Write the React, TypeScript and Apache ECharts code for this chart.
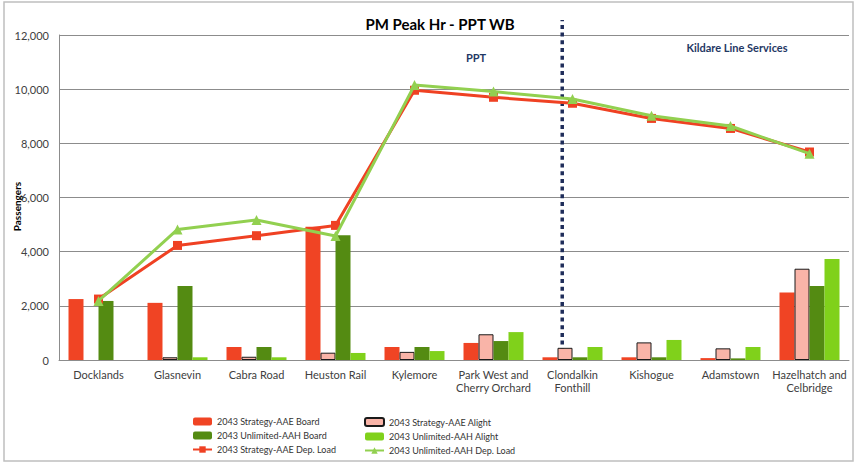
import React, { useEffect, useRef } from "react";
import * as echarts from "echarts";

const categories = [
  "Docklands",
  "Glasnevin",
  "Cabra Road",
  "Heuston Rail",
  "Kylemore",
  "Park West and\nCherry Orchard",
  "Clondalkin\nFonthill",
  "Kishogue",
  "Adamstown",
  "Hazelhatch and\nCelbridge",
];

const strategyBoard = [2250, 2110, 480, 4920, 480, 630, 100, 100, 70, 2490];
const strategyAlight = [0, 100, 120, 270, 300, 950, 450, 650, 430, 3370];
const unlimitedBoard = [2180, 2730, 480, 4610, 480, 700, 100, 100, 60, 2730];
const unlimitedAlight = [0, 100, 100, 260, 330, 1030, 480, 740, 480, 3730];
const strategyLoad = [2250, 4230, 4590, 4970, 9960, 9700, 9480, 8920, 8550, 7680];
const unlimitedLoad = [2180, 4820, 5170, 4580, 10150, 9910, 9640, 9020, 8640, 7620];

const yTicks = { min: 0, max: 12000, interval: 2000 };
const DIVIDER_X = 6.37;
const DIVIDER_TOP = 12550;

const NAMES = {
  sb: "2043 Strategy-AAE Board",
  sa: "2043 Strategy-AAE Alight",
  ub: "2043 Unlimited-AAH Board",
  ua: "2043 Unlimited-AAH Alight",
  sl: "2043 Strategy-AAE Dep. Load",
  ul: "2043 Unlimited-AAH Dep. Load",
};

const FONT = "Lato, 'Open Sans', sans-serif";

const hideZero = (arr: number[]) => arr.map((v) => (v === 0 ? null : v));

export default function App() {
  const ref = useRef<HTMLDivElement>(null);
  useEffect(() => {
    if (!ref.current) return;
    const chart = echarts.init(ref.current, undefined, { renderer: "svg" });
    const legendCommon = {
      orient: "vertical" as const,
      padding: 0,
      height: 50,
      itemWidth: 19,
      itemHeight: 8,
      itemGap: 5,
      textStyle: { fontSize: 9, color: "#333", fontFamily: FONT },
    };
    chart.setOption({
      animation: false,
      textStyle: { fontFamily: FONT },
      title: {
        text: "PM Peak Hr - PPT WB",
        left: 435,
        top: 11,
        textAlign: "center",
        textStyle: { fontSize: 15, fontWeight: "bold", color: "#000", fontFamily: FONT },
      },
      legend: [
        {
          ...legendCommon,
          left: 192,
          top: 417,
          data: [NAMES.sb, NAMES.ub, NAMES.sl],
        },
        {
          ...legendCommon,
          left: 364,
          top: 417,
          data: [NAMES.sa, NAMES.ua, NAMES.ul],
        },
      ],
      grid: {
        left: 59,
        right: 9,
        top: 35,
        bottom: 103,
        containLabel: false,
        outerBoundsMode: "none",
      },
      xAxis: [
        {
          type: "category",
          data: categories,
          axisLine: { show: true, lineStyle: { color: "#8C8C8C", width: 1 } },
          axisTick: { show: false },
          axisLabel: {
            interval: 0,
            fontSize: 11,
            lineHeight: 13,
            color: "#404040",
            margin: 8,
            fontFamily: FONT,
          },
        },
        { type: "value", min: 0, max: 10, show: false },
      ],
      yAxis: {
        type: "value",
        min: yTicks.min,
        max: yTicks.max,
        interval: yTicks.interval,
        name: "Passengers",
        nameLocation: "middle",
        nameGap: 37,
        nameRotate: 90,
        nameMoveOverlap: false,
        nameTextStyle: {
          fontSize: 10,
          fontWeight: "bold",
          color: "#000",
          fontFamily: FONT,
          padding: [0, 18, 0, 0],
        },
        axisLine: { show: true, lineStyle: { color: "#8C8C8C", width: 1 } },
        axisTick: { show: false },
        splitLine: { lineStyle: { color: "#8C8C8C", width: 1 } },
        axisLabel: {
          fontSize: 11,
          color: "#404040",
          margin: 10,
          fontFamily: FONT,
          formatter: (v: number) => v.toLocaleString("en-US"),
        },
      },
      graphic: [
        {
          type: "rect",
          shape: { x: 4, y: 2, width: 849, height: 459 },
          style: { fill: "none", stroke: "#BFBFBF", lineWidth: 1.5 },
          silent: true,
        },
        {
          type: "text",
          x: 476,
          y: 57,
          style: {
            text: "PPT",
            fill: "#1F3864",
            font: `bold 11px ${FONT}`,
            align: "center",
            verticalAlign: "middle",
          },
        },
        {
          type: "text",
          x: 737,
          y: 47,
          style: {
            text: "Kildare Line Services",
            fill: "#1F3864",
            font: `bold 11px ${FONT}`,
            align: "center",
            verticalAlign: "middle",
          },
        },
      ],
      series: [
        {
          name: NAMES.sb,
          type: "bar",
          data: hideZero(strategyBoard),
          barWidth: 15,
          barGap: "0%",
          itemStyle: { color: "#F04424" },
        },
        {
          name: NAMES.sa,
          type: "bar",
          data: hideZero(strategyAlight),
          barWidth: 15,
          barGap: "0%",
          itemStyle: { color: "#F9B4A8", borderColor: "#1a1a1a", borderWidth: 1 },
        },
        {
          name: NAMES.ub,
          type: "bar",
          data: hideZero(unlimitedBoard),
          barWidth: 15,
          barGap: "0%",
          itemStyle: { color: "#548B12" },
        },
        {
          name: NAMES.ua,
          type: "bar",
          data: hideZero(unlimitedAlight),
          barWidth: 15,
          barGap: "0%",
          itemStyle: { color: "#80D11B" },
        },
        {
          name: "divider",
          type: "line",
          xAxisIndex: 1,
          data: [
            [DIVIDER_X, 0],
            [DIVIDER_X, DIVIDER_TOP],
          ],
          clip: false,
          symbol: "none",
          silent: true,
          lineStyle: { color: "#1F2D5A", width: 3.5, type: [4, 3.7] },
          z: 1,
        },
        {
          name: NAMES.sl,
          type: "line",
          data: strategyLoad,
          symbol: "rect",
          symbolSize: 9,
          lineStyle: { color: "#EF4123", width: 3 },
          itemStyle: { color: "#EF4123" },
          z: 3,
        },
        {
          name: NAMES.ul,
          type: "line",
          data: unlimitedLoad,
          symbol: "triangle",
          symbolSize: 10,
          lineStyle: { color: "#92D050", width: 3 },
          itemStyle: { color: "#92D050" },
          z: 4,
        },
      ],
    });
    return () => chart.dispose();
  }, []);
  return (
    <div
      ref={ref}
      style={{ position: "fixed", left: 0, top: 0, width: 858, height: 463, background: "#fff" }}
    />
  );
}
